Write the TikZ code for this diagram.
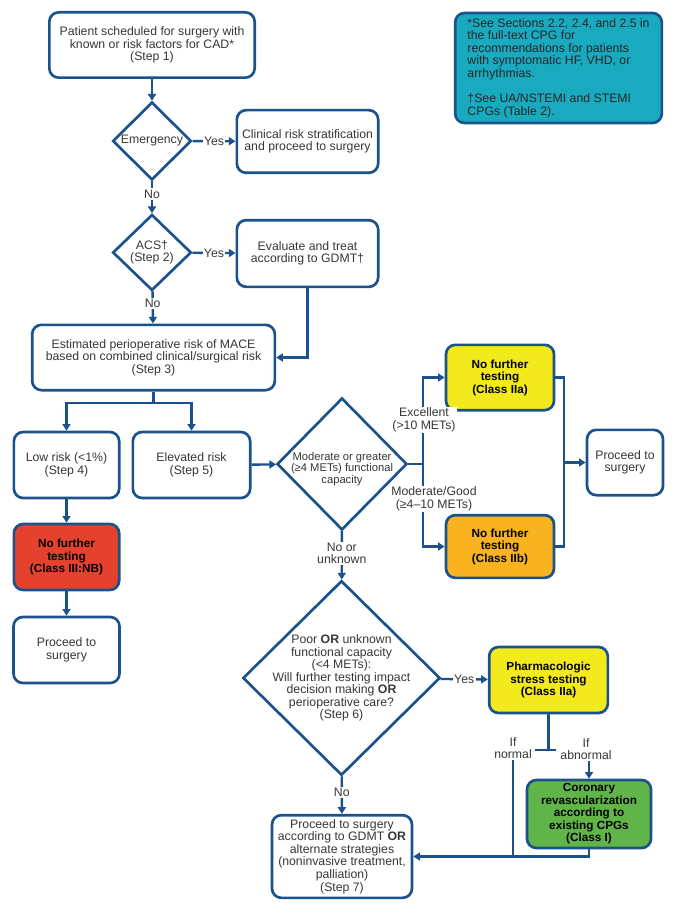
\documentclass[tikz,border=0pt]{standalone}
\usepackage{fontspec}
\setmainfont{Liberation Sans}
\usetikzlibrary{shapes.geometric,arrows.meta}
\definecolor{lineblue}{RGB}{28,82,140}
\definecolor{notecyan}{RGB}{26,170,192}
\definecolor{txtgray}{RGB}{55,55,55}
\definecolor{boxyellow}{RGB}{243,234,30}
\definecolor{boxorange}{RGB}{249,178,32}
\definecolor{boxred}{RGB}{228,66,46}
\definecolor{boxgreen}{RGB}{96,180,72}
\begin{document}
\begin{tikzpicture}[x=0.75pt,y=-0.75pt]
\tikzstyle{every node}+=[font=\fontsize{9.2}{9.4}\selectfont, text=txtgray]
\tikzstyle{box}=[draw=lineblue, line width=2pt, rounded corners=7pt, fill=white, align=center, inner sep=2pt]
\tikzstyle{hot}=[box, font=\fontsize{8.8}{9.4}\selectfont\bfseries, text=black]
\tikzstyle{choice}=[diamond, draw=lineblue, line width=2pt, fill=white, aspect=1, inner sep=0pt, align=center]
\tikzstyle{flow}=[draw=lineblue, line width=1.8pt, -{Triangle[length=5pt,width=6pt]}]
\tikzstyle{plain}=[draw=lineblue, line width=1.8pt]
\tikzstyle{tag}=[fill=white, inner sep=1pt, align=center]
\useasboundingbox (0,0) rectangle (676,913);
\node[box, minimum width=154pt, minimum height=49pt] (step1) at (152,45) {Patient scheduled for surgery with\\known or risk factors for CAD*\\(Step 1)};
\node[box, fill=notecyan, text=black!85, align=left, minimum width=155pt, minimum height=82.5pt] (note) at (558.5,68) {*See Sections 2.2, 2.4, and 2.5 in\\the full-text CPG for\\recommendations for patients\\with symptomatic HF, VHD, or\\arrhythmias.\\[9.4pt]\dag See UA/NSTEMI and STEMI\\CPGs (Table 2).};
\node[choice, minimum width=59pt, minimum height=58.5pt] (emerg) at (152,141) {Emergency};
\node[box, minimum width=106pt, minimum height=47pt] (clinic) at (307.5,141.5) {Clinical risk stratification\\and proceed to surgery};
\node[choice, minimum width=59pt, minimum height=57pt] (acs) at (152,252.5) {ACS\dag\\(Step 2)};
\node[box, minimum width=106pt, minimum height=50pt] (evalb) at (307.5,253.5) {Evaluate and treat\\according to GDMT\dag};
\node[box, minimum width=182pt, minimum height=49pt] (step3) at (153.5,357.5) {Estimated perioperative risk of MACE\\based on combined clinical/surgical risk\\(Step 3)};
\node[box, minimum width=79pt, minimum height=49.5pt] (lowrisk) at (66.5,465) {Low risk (<1\%)\\(Step 4)};
\node[box, minimum width=88pt, minimum height=49.5pt] (elev) at (191.5,465) {Elevated risk\\(Step 5)};
\node[hot, fill=boxred, minimum width=79pt, minimum height=49.5pt] (nfred) at (66.5,557) {No further\\testing\\(Class III:NB)};
\node[box, minimum width=79.5pt, minimum height=49.5pt] (proceedL) at (66.5,650) {Proceed to\\surgery};
\node[choice, minimum width=97.5pt, minimum height=99pt] (modcap) at (342,464) {};
\node[align=center, font=\fontsize{8.4}{8.8}\selectfont] (modtxt) at (342,469) {Moderate or greater\\(≥4 METs) functional\\capacity};
\node[hot, fill=boxyellow, minimum width=81pt, minimum height=49pt] (nfyellow) at (500,377.5) {No further\\testing\\(Class IIa)};
\node[hot, fill=boxorange, minimum width=81pt, minimum height=47pt] (nforange) at (500,546.5) {No further\\testing\\(Class IIb)};
\node[box, minimum width=57pt, minimum height=49pt] (proceedR) at (625,462.5) {Proceed to\\surgery};
\node[choice, minimum width=148pt, minimum height=146pt] (step6) at (341.5,678) {};
\node[align=center] (step6txt) at (341.5,678) {Poor \textbf{OR} unknown\\functional capacity\\(<4 METs):\\Will further testing impact\\decision making \textbf{OR}\\perioperative care?\\(Step 6)};
\node[hot, fill=boxyellow, minimum width=89pt, minimum height=49.5pt] (pharm) at (548.5,680) {Pharmacologic\\stress testing\\(Class IIa)};
\node[hot, fill=boxgreen, minimum width=93pt, minimum height=51pt] (revasc) at (589,814) {Coronary\\revascularization\\according to\\existing CPGs\\(Class I)};
\node[box, minimum width=105pt, minimum height=62pt] (step7) at (342,856.5) {Proceed to surgery\\according to GDMT \textbf{OR}\\alternate strategies\\(noninvasive treatment,\\palliation)\\(Step 7)};
\node[tag] (ifnorm) at (513,748) {If\\normal};
\node[tag] (ifabn) at (586,749) {If\\abnormal};
\coordinate (split) at (153.5,403);
\coordinate (fork) at (423,464);
\coordinate (merge) at (564,462.5);
\coordinate (teeL) at (535,750);
\coordinate (teeR) at (556,750);
\draw[flow] (step1) -- (emerg);
\draw[flow] (emerg) -- node[tag] {Yes} (clinic);
\draw[flow] (emerg) -- node[tag, pos=0.4] {No} (acs);
\draw[flow] (acs) -- node[tag] {Yes} (evalb);
\draw[flow] (acs) -- node[tag, pos=0.37] {No} (step3);
\draw[flow] (evalb.south) |- (step3.east);
\draw[plain] (step3.south) -- (split);
\draw[flow] (split) -| (lowrisk.north);
\draw[flow] (split) -| (elev.north);
\draw[flow] (lowrisk) -- (nfred);
\draw[flow] (nfred) -- (proceedL);
\draw[flow] (elev) -- (modcap);
\draw[plain] (modcap.east) -- (fork);
\draw[flow] (fork) |- (nfyellow.west);
\draw[flow] (fork) |- (nforange.west);
\node[tag] (exc) at (424,420) {Excellent\\(>10 METs)};
\node[tag] (modgood) at (434,499) {Moderate/Good\\(≥4–10 METs)};
\draw[plain] (nfyellow.east) -| (merge) |- (nforange.east);
\draw[flow] (merge) -- (proceedR.west);
\draw[flow] (modcap) -- node[tag, pos=0.46] {No or\\unknown} (step6);
\draw[flow] (step6) -- node[tag] {Yes} (pharm);
\draw[plain] (pharm.south) -- (pharm.south |- teeL);
\draw[plain] (teeL) -- (teeR);
\draw[plain] (ifnorm.south) -- (ifnorm.south |- step7.east);
\draw[flow] (revasc.north |- ifabn.south) -- (revasc.north);
\draw[flow] (revasc.south) |- (step7.east);
\draw[flow] (step6) -- node[tag, pos=0.42] {No} (step7);
\end{tikzpicture}
\end{document}
